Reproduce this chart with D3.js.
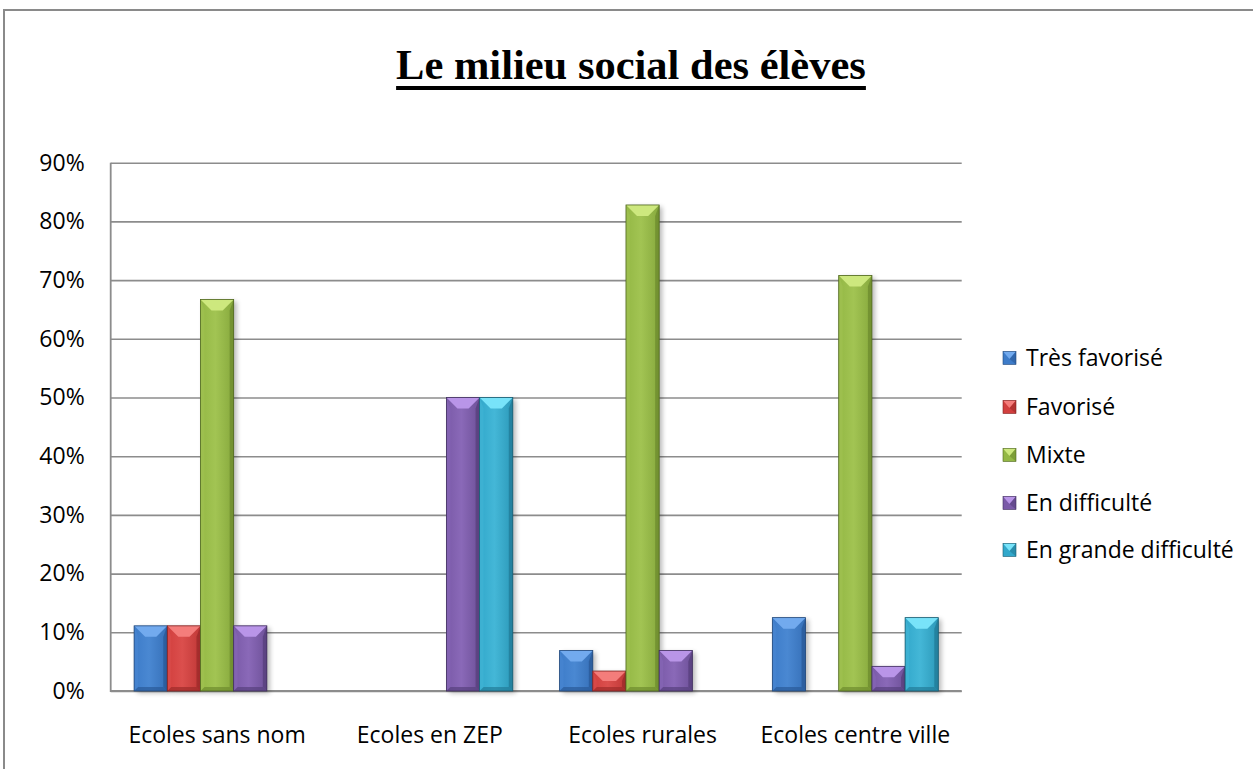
<!DOCTYPE html>
<html>
<head>
<meta charset="utf-8">
<script src="https://cdn.jsdelivr.net/npm/d3@7"></script>
<style>
  html, body { margin: 0; padding: 0; background: #fff; }
  svg { display: block; }
</style>
</head>
<body>
<svg id="chart" width="1253" height="769"></svg>
<script>
// ---- data ----
const categories = ["Ecoles sans nom", "Ecoles en ZEP", "Ecoles rurales", "Ecoles centre ville"];
const seriesNames = ["Très favorisé", "Favorisé", "Mixte", "En difficulté", "En grande difficulté"];
const tresFavorise = [11.1, 0, 6.9, 12.5];
const favorise = [11.1, 0, 3.4, 0];
const mixte = [66.7, 0, 82.8, 70.8];
const enDifficulte = [11.1, 50, 6.9, 4.2];
const enGrandeDifficulte = [0, 50, 0, 12.5];
const yTicks = [0, 10, 20, 30, 40, 50, 60, 70, 80, 90];
const titleText = "Le milieu social des élèves";

const seriesValues = [tresFavorise, favorise, mixte, enDifficulte, enGrandeDifficulte];
const palette = [
  { base: "#3d7cc9", light: "#72aaee", dark: "#2a5a99", edge: "#24497a" },
  { base: "#d23f3e", light: "#f47d7b", dark: "#9e2b2a", edge: "#7d2221" },
  { base: "#94b845", light: "#cde87e", dark: "#6e8c2e", edge: "#4f6620" },
  { base: "#7a5aa8", light: "#b995e8", dark: "#57407d", edge: "#3f2e5c" },
  { base: "#32a8cb", light: "#78e3f9", dark: "#227c98", edge: "#195b70" }
];

const svg = d3.select("#chart");
const defs = svg.append("defs");

// outer frame
svg.append("rect").attr("x", 4).attr("y", 10).attr("width", 1270).attr("height", 790)
  .attr("fill", "#fff").attr("stroke", "#8a8a8a").attr("stroke-width", 2);

// title
const title = svg.append("text")
  .attr("x", 631).attr("y", 79)
  .attr("text-anchor", "middle")
  .attr("font-family", "'Liberation Serif', 'Times New Roman', serif")
  .attr("font-weight", "bold")
  .attr("font-size", 42.5)
  .attr("fill", "#000")
  .text(titleText);
const tw = title.node().getComputedTextLength();
svg.append("rect").attr("x", 631 - tw / 2).attr("y", 86).attr("width", tw).attr("height", 4).attr("fill", "#000");

// scales
const plotL = 110.7, plotR = 961.7, plotT = 162.7, plotB = 691;
const y = d3.scaleLinear().domain([0, 90]).range([plotB, plotT]);
const x0 = d3.scaleBand().domain(categories).range([plotL, plotR]).paddingInner(0.22).paddingOuter(0.11);
const x1 = d3.scaleBand().domain(seriesNames).range([0, x0.bandwidth()]);

const sansFont = "'Open Sans', 'Noto Sans', sans-serif";
const fs = 23;

// gridlines + y labels
const yAxis = svg.append("g").attr("transform", `translate(${plotL},0)`)
  .call(d3.axisLeft(y).tickValues(yTicks).tickSize(-(plotR - plotL)).tickPadding(26).tickFormat(d => d + "%"));
yAxis.select(".domain").remove();
yAxis.selectAll(".tick line").attr("stroke", "#8c8c8c").attr("stroke-width", 1.6);
yAxis.selectAll(".tick text").attr("font-family", sansFont).attr("font-size", fs).attr("fill", "#000");

// axis lines
svg.append("line").attr("x1", plotL).attr("x2", plotL).attr("y1", plotT).attr("y2", plotB + 1)
  .attr("stroke", "#8c8c8c").attr("stroke-width", 1.8);
svg.append("line").attr("x1", plotL).attr("x2", plotR).attr("y1", plotB).attr("y2", plotB)
  .attr("stroke", "#8c8c8c").attr("stroke-width", 1.8);

// x labels
const xAxis = svg.append("g").attr("transform", `translate(0,${plotB})`)
  .call(d3.axisBottom(x0).tickSize(0));
xAxis.select(".domain").remove();
xAxis.selectAll(".tick text").attr("font-family", sansFont).attr("font-size", fs).attr("fill", "#000")
  .attr("y", 52).attr("dy", 0);

// shadow filter
const f = defs.append("filter").attr("id", "shadow").attr("x", "-50%").attr("y", "-50%").attr("width", "200%").attr("height", "200%");
f.append("feGaussianBlur").attr("stdDeviation", 2.5);

// gradients per series
palette.forEach((p, i) => {
  const g = defs.append("linearGradient").attr("id", "body" + i).attr("x1", 0).attr("x2", 1).attr("y1", 0).attr("y2", 0);
  g.append("stop").attr("offset", "0%").attr("stop-color", p.base);
  g.append("stop").attr("offset", "45%").attr("stop-color", d3.interpolateRgb(p.base, p.light)(0.25));
  g.append("stop").attr("offset", "100%").attr("stop-color", d3.interpolateRgb(p.base, p.dark)(0.35));
});

function drawBevelBar(g, x, yTop, w, h, si) {
  const p = palette[si];
  const b = Math.min(11, h / 2, w / 2);
  g.append("rect").attr("x", x + 3).attr("y", yTop + 2).attr("width", w).attr("height", h)
    .attr("fill", "#000").attr("opacity", 0.28).attr("filter", "url(#shadow)");
  g.append("rect").attr("x", x).attr("y", yTop).attr("width", w).attr("height", h)
    .attr("fill", `url(#body${si})`);
  const bb = Math.min(4, h / 4);
  g.append("path").attr("d", `M${x},${yTop}L${x + bb},${yTop + b}L${x + bb},${yTop + h - bb}L${x},${yTop + h}Z`)
    .attr("fill", d3.interpolateRgb(p.base, p.light)(0.15));
  g.append("path").attr("d", `M${x + w},${yTop}L${x + w - bb},${yTop + b}L${x + w - bb},${yTop + h - bb}L${x + w},${yTop + h}Z`)
    .attr("fill", p.dark).attr("opacity", 0.8);
  g.append("path").attr("d", `M${x},${yTop + h}L${x + bb},${yTop + h - bb}L${x + w - bb},${yTop + h - bb}L${x + w},${yTop + h}Z`)
    .attr("fill", p.dark).attr("opacity", 0.7);
  g.append("path").attr("d", `M${x},${yTop}L${x + w},${yTop}L${x + w - b},${yTop + b}L${x + b},${yTop + b}Z`)
    .attr("fill", p.light);
  g.append("rect").attr("x", x).attr("y", yTop).attr("width", w).attr("height", h)
    .attr("fill", "none").attr("stroke", p.edge).attr("stroke-width", 0.8);
}

// bars
const barsG = svg.append("g");
categories.forEach((c, ci) => {
  seriesNames.forEach((s, si) => {
    const v = seriesValues[si][ci];
    if (!v) return;
    const bx = x0(c) + x1(s);
    drawBevelBar(barsG.append("g"), bx, y(v), x1.bandwidth(), y(0) - y(v), si);
  });
});

// legend
const legendY = [358, 407, 455, 503, 550];
const lg = svg.append("g");
seriesNames.forEach((s, si) => {
  const cy = legendY[si];
  const p = palette[si];
  const sx = 1003, sz = 13;
  const g = lg.append("g");
  g.append("rect").attr("x", sx).attr("y", cy - sz / 2).attr("width", sz).attr("height", sz).attr("fill", p.base);
  g.append("path").attr("d", `M${sx},${cy - sz / 2}L${sx + sz},${cy - sz / 2}L${sx + sz / 2},${cy + 1}Z`).attr("fill", p.light);
  g.append("path").attr("d", `M${sx + sz},${cy - sz / 2}L${sx + sz},${cy + sz / 2}L${sx + sz / 2},${cy + 1}Z`).attr("fill", p.dark).attr("opacity", 0.6);
  g.append("rect").attr("x", sx).attr("y", cy - sz / 2).attr("width", sz).attr("height", sz).attr("fill", "none").attr("stroke", p.edge).attr("stroke-width", 0.6);
  g.append("text").attr("x", 1026).attr("y", cy + 8)
    .attr("font-family", sansFont).attr("font-size", fs).attr("fill", "#000").text(s);
});
</script>
</body>
</html>
